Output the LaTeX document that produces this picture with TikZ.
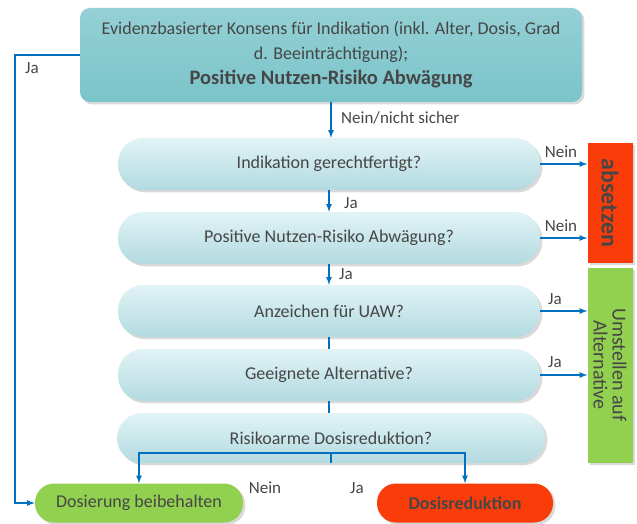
\documentclass[tikz,border=0pt]{standalone}
\usepackage{fontspec}
\setmainfont{Carlito}
\usetikzlibrary{shadows}

\definecolor{teal1}{RGB}{122,196,202}
\definecolor{cyan1}{RGB}{178,218,224}
\definecolor{cyan2}{RGB}{226,244,246}
\definecolor{flowblue}{RGB}{0,112,192}
\definecolor{redbox}{RGB}{250,60,10}
\definecolor{greenbox}{RGB}{146,208,80}
\definecolor{textgray}{RGB}{70,70,70}

\tikzstyle{mainbox} = [rectangle,rounded corners=10pt,top color=teal1!80,bottom color=teal1,
  minimum width=502pt,minimum height=94pt,align=center,text=textgray,
  font=\fontsize{18}{25}\selectfont,drop shadow={opacity=0.3}]
\tikzstyle{question} = [rectangle,rounded corners=25pt,top color=cyan2,bottom color=cyan1,
  minimum width=422pt,minimum height=52pt,text=textgray,font=\fontsize{18}{20}\selectfont,
  drop shadow={opacity=0.3}]
\tikzstyle{result} = [rectangle,rounded corners=19pt,minimum height=39pt,text=textgray,
  font=\fontsize{18}{20}\selectfont,drop shadow={opacity=0.3}]
\tikzstyle{sidebar} = [rectangle,minimum width=45pt,text=textgray,drop shadow={opacity=0.3}]
\tikzstyle{flow} = [->,>=latex,draw=flowblue,line width=1.6pt]
\tikzstyle{flowlabel} = [text=textgray,font=\fontsize{17}{19}\selectfont,inner sep=1pt]

\begin{document}
\begin{tikzpicture}[x=1pt,y=-1pt]
		\useasboundingbox (0,0) rectangle (637,524);
		\node[mainbox] (top) at (331,55) {Evidenzbasierter Konsens für Indikation (inkl. Alter, Dosis, Grad\\
			d. Beeinträchtigung);\\
			{\fontsize{20.5}{25}\selectfont\bfseries Positive Nutzen-Risiko Abwägung}};
		\node[question] (q1) at (329,164) {Indikation gerechtfertigt?};
		\node[question] (q2) at (329,238) {Positive Nutzen-Risiko Abwägung?};
		\node[question] (q3) at (329,311) {Anzeichen für UAW?};
		\node[question] (q4) at (329,375) {Geeignete Alternative?};
		\node[question,minimum width=428pt,minimum height=50pt] (q5) at (331,438) {Risikoarme Dosisreduktion?};
		\node[result,fill=greenbox,minimum width=208pt] (keep) at (139,503) {Dosierung beibehalten};
		\node[result,fill=redbox,minimum width=176pt,font=\fontsize{18}{20}\selectfont\bfseries] (reduce) at (465,503) {Dosisreduktion};
		\node[sidebar,fill=redbox,minimum height=120pt] (stop) at (610,203) {};
		\node[rotate=-90,text=textgray,font=\fontsize{24}{26}\selectfont\bfseries] at (stop.center) {absetzen};
		\node[sidebar,fill=greenbox,minimum height=195pt] (alt) at (610,365) {};
		\node[rotate=-90,text=textgray,align=center,font=\fontsize{20}{19}\selectfont] at (alt.center) {Umstellen auf\\Alternative};
		\draw[flow] (top.south) -- (top.south |- q1.north);
		\draw[flow] (q1.south) -- (q2.north);
		\draw[flow] (q2.south) -- (q3.north);
		\draw[flowblue,line width=1.6pt] (q3.south) -- (q4.north);
		\draw[flowblue,line width=1.6pt] (q4.south) -- (q4.south |- q5.north);
		\draw[flow] (q1.east) -- (q1.east -| stop.west);
		\draw[flow] (q2.east) -- (q2.east -| stop.west);
		\draw[flow] (q3.east) -- (q3.east -| alt.west);
		\draw[flow] (q4.east) -- (q4.east -| alt.west);
		\draw[flow] (top.west) -- ++(-65,0) |- (keep.west);
		\coordinate (split) at ([yshift=10pt]q5.south);
		\draw[flowblue,line width=1.6pt] (q5.south) -- (split);
		\draw[flow] (split) -| (keep.north);
		\draw[flow] (split) -| (reduce.north);
		\node[flowlabel] at (32,68) {Ja};
		\node[flowlabel,anchor=west] at (340,118) {Nein/nicht sicher};
		\node[flowlabel] at (561,152) {Nein};
		\node[flowlabel] at (561,226) {Nein};
		\node[flowlabel] at (351,203) {Ja};
		\node[flowlabel] at (346,274) {Ja};
		\node[flowlabel] at (555,299) {Ja};
		\node[flowlabel] at (555,362) {Ja};
		\node[flowlabel] at (265,488) {Nein};
		\node[flowlabel] at (357,488) {Ja};
		\end{tikzpicture}
\end{document}
